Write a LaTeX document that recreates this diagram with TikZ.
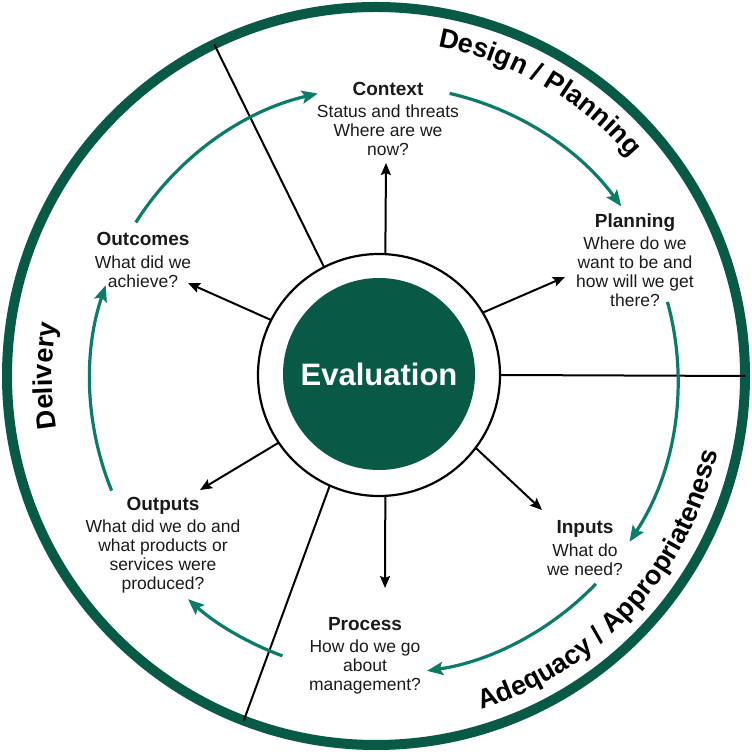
\documentclass[tikz,border=0pt]{standalone}
\usepackage{fontspec}
\setmainfont{Liberation Sans}
\usetikzlibrary{arrows.meta,decorations.text}
\definecolor{rimgreen}{RGB}{8,90,70}
\definecolor{loopgreen}{RGB}{12,124,104}
\definecolor{bodytext}{RGB}{26,26,26}
\newcommand{\stagehead}[1]{{\bfseries\fontsize{19}{19}\selectfont #1}\\[3.5pt]}
\begin{document}
\begin{tikzpicture}[x=1pt,y=1pt,
  rimline/.style={draw=rimgreen,line width=10pt},
  spoke/.style={draw=black,line width=2pt},
  probe/.style={draw=black,line width=2pt,-{Stealth[length=12pt,width=10pt,inset=2pt]}},
  loopstep/.style={draw=loopgreen,line width=3.2pt,-{Stealth[length=16pt,width=13pt,inset=3pt]}},
  stage/.style={align=center,text=bodytext,font=\fontsize{17.5}{19}\selectfont,inner sep=0pt},
  bandlabel/.style={decorate,decoration={text along path,text align=center,
    text={|\bfseries\fontsize{27}{27}\selectfont|#1}}}
]
\useasboundingbox (0,0) rectangle (752,752);

% outer rim and central hub
\node[circle,rimline,minimum size=738pt,inner sep=0pt,outer sep=0pt] (rim) at (376,376) {};
\node[circle,draw=black,line width=2.2pt,minimum size=242pt,inner sep=0pt,outer sep=0pt] (ring) at (379,377) {};
\node[circle,fill=rimgreen,minimum size=192pt,inner sep=0pt,text=white,
      font=\bfseries\fontsize{31}{31}\selectfont] (core) at (379,378) {Evaluation};

% sector dividers
\draw[spoke] (ring.117.4) -- (rim.116.8);
\draw[spoke] (ring.246.9) -- (rim.249.5);
\draw[spoke] (ring.0) -- (rim.0);

% stages of the cycle
\node[stage] (context) at (388,633) {\stagehead{Context}Status and threats\\Where are we\\now?};
\node[stage] (planning) at (635,492) {\stagehead{Planning}Where do we\\want to be and\\how will we get\\there?};
\node[stage] (inputs) at (585,204) {\stagehead{Inputs}What do\\we need?};
\node[stage] (process) at (365,96) {\stagehead{Process}How do we go\\about\\management?};
\node[stage] (outputs) at (163,207) {\stagehead{Outputs}What did we do and\\what products or\\services were\\produced?};
\node[stage] (outcomes) at (143,492) {\stagehead{Outcomes}What did we\\achieve?};

% arrows from the hub to each stage
\coordinate (tipN) at (386,589);
\coordinate (tipNE) at (565,475);
\coordinate (tipSE) at (542,242);
\coordinate (tipS) at (385,164);
\coordinate (tipSW) at (200,262);
\coordinate (tipNW) at (188,469);
\draw[probe] (ring.87) -- (tipN);
\draw[probe] (ring.31) -- (tipNE);
\draw[probe] (ring.-37) -- (tipSE);
\draw[probe] (ring.-87) -- (tipS);
\draw[probe] (ring.214) -- (tipSW);
\draw[probe] (ring.153) -- (tipNW);

% clockwise cycle arrows
\coordinate (hub) at (384,372);
\coordinate (arcA) at ([shift={(147.6:294)}]hub);
\coordinate (arcB) at ([shift={(77.1:294)}]hub);
\coordinate (arcC) at ([shift={(15.4:294)}]hub);
\coordinate (arcD) at ([shift={(-43.9:294)}]hub);
\coordinate (arcE) at ([shift={(249.8:294)}]hub);
\coordinate (arcF) at ([shift={(202.1:294)}]hub);
\draw[loopstep] (arcA) arc[start angle=147.6,end angle=103,radius=294];
\draw[loopstep] (arcB) arc[start angle=77.1,end angle=36.2,radius=294];
\draw[loopstep] (arcC) arc[start angle=15.4,end angle=-33.4,radius=294];
\draw[loopstep] (arcD) arc[start angle=-43.9,end angle=-81.6,radius=294];
\draw[loopstep] (arcE) arc[start angle=249.8,end angle=228.2,radius=294];
\draw[loopstep] (arcF) arc[start angle=202.1,end angle=161.2,radius=294];

% band labels along the rim
\coordinate (rimc) at (376,376);
\path[bandlabel={Design / Planning}] ([shift={(82:335)}]rimc) arc[start angle=82,end angle=38,radius=335];
\path[bandlabel={Delivery}] ([shift={(200:324)}]rimc) arc[start angle=200,end angle=160,radius=324];
\path[bandlabel={Adequacy / Appropriateness}] ([shift={(-88:350)}]rimc) arc[start angle=-88,end angle=3,radius=350];
\end{tikzpicture}
\end{document}
